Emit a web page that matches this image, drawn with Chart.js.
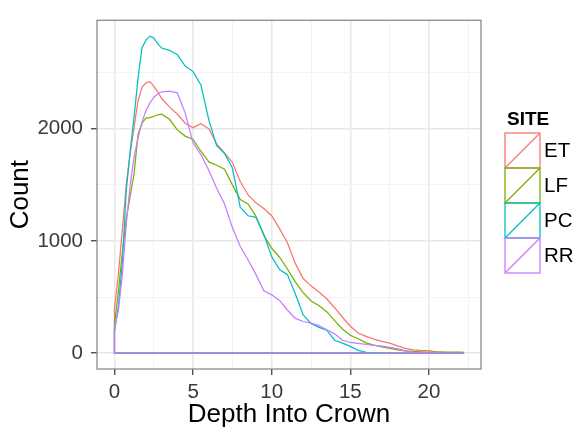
<!DOCTYPE html>
<html>
<head>
<meta charset="utf-8">
<script src="https://cdn.jsdelivr.net/npm/chart.js@4.4.1/dist/chart.umd.min.js"></script>
<style>
  html, body { margin: 0; padding: 0; background: #fff; }
  #depth-chart { display: block; }
</style>
</head>
<body>
<canvas id="depth-chart" width="576" height="433"></canvas>
<script>
// depth grid shared by every site
const depth = [0, 0.25, 0.5, 0.75, 1, 1.25, 1.5, 1.75, 2, 2.25, 2.5, 2.75, 3, 3.5, 4, 4.5, 5, 5.5,
    6, 6.5, 7, 7.5, 8, 8.5, 9, 9.5, 10, 10.5, 11, 11.5, 12, 12.5, 13, 13.5, 14, 14.5, 15, 15.5,
    16, 16.5, 17, 17.5, 18, 18.5, 19, 19.5, 20, 20.5, 21, 21.5, 22, 22.2];

const sites = ["ET", "LF", "PC", "RR"];
const siteColors = ["#F8766D", "#7CAE00", "#00BFC4", "#C77CFF"];

// counts per site along the depth grid
const countET = [400, 700, 1100, 1500, 1780, 2020, 2250, 2370, 2410, 2420, 2380, 2330, 2270, 2195,
    2130, 2050, 2010, 2045, 2000, 1865, 1785, 1700, 1530, 1410, 1340, 1290, 1225, 1110, 985, 800,
    665, 600, 545, 485, 405, 320, 240, 180, 150, 125, 105, 90, 65, 42, 30, 25, 22, 12, 6, 3, 1, 0];
const countLF = [260, 550, 900, 1200, 1400, 1600, 1950, 2050, 2095, 2100, 2110, 2125, 2130, 2085,
    1990, 1935, 1905, 1800, 1705, 1675, 1640, 1500, 1370, 1330, 1220, 1050, 935, 855, 750, 635,
    540, 465, 425, 370, 290, 215, 160, 128, 92, 72, 55, 42, 29, 21, 15, 12, 10, 10, 9, 9, 9, 8];
const countPC = [190, 420, 800, 1450, 1800, 2110, 2450, 2720, 2790, 2826, 2810, 2760, 2720, 2700,
    2660, 2560, 2510, 2390, 2080, 1850, 1780, 1650, 1300, 1225, 1210, 1060, 860, 745, 700, 530,
    340, 265, 230, 205, 115, 90, 60, 25, 8, 4, 2, 1, 0, 0, 0, 0, 0, 0, 0, 0, 0, 0];
const countRR = [230, 380, 700, 1150, 1500, 1750, 1920, 2060, 2160, 2230, 2280, 2310, 2330, 2335,
    2320, 2140, 1875, 1770, 1630, 1470, 1330, 1120, 950, 830, 700, 555, 520, 470, 385, 310,
    282, 268, 245, 208, 172, 115, 95, 87, 78, 70, 62, 52, 40, 20, 8, 5, 3, 2, 1, 0, 0, 0];

const siteCounts = [countET, countLF, countPC, countRR];

const xMajor = [0, 5, 10, 15, 20];
const yMajor = [0, 1000, 2000];

// density outline closed along the baseline, like a polygon
function outline(values) {
    const first = depth[0];
    const last = depth[depth.length - 1];
    const pts = [{ x: first, y: 0 }];
    depth.forEach((d, i) => pts.push({ x: d, y: values[i] }));
    pts.push({ x: last, y: 0 });
    pts.push({ x: first, y: 0 });
    return pts;
}

const xLo = Math.min(...depth), xHi = Math.max(...depth);
const yHi = Math.max(...siteCounts.flat());
const xPad = (xHi - xLo) * 0.05;

const datasets = sites.map((s, i) => ({
    label: s,
    data: outline(siteCounts[i]),
    borderColor: siteColors[i],
    borderWidth: 1.25,
    pointRadius: 0,
    fill: false,
    tension: 0,
    order: sites.length - i   // later sites drawn on top
}));

const fontFamily = "'Liberation Sans', Arial, sans-serif";

// one legend key: outlined box crossed by a diagonal
function drawKey(ctx, x, y, size, color) {
    ctx.save();
    ctx.strokeStyle = color;
    ctx.lineWidth = 1.3;
    ctx.beginPath();
    ctx.moveTo(x + 0.5, y + size - 0.5);
    ctx.lineTo(x + size - 0.5, y + 0.5);
    ctx.stroke();
    ctx.strokeRect(x, y, size, size);
    ctx.restore();
}

// white background, panel frame and the SITE key
const panelDecor = {
    id: 'panelDecor',
    beforeDraw(chart) {
        const ctx = chart.ctx;
        ctx.save();
        ctx.fillStyle = '#fff';
        ctx.fillRect(0, 0, chart.width, chart.height);
        ctx.restore();
    },
    afterDraw(chart) {
        const { ctx, chartArea: a } = chart;
        ctx.save();
        ctx.strokeStyle = '#8a8a8a';
        ctx.lineWidth = 1.3;
        ctx.strokeRect(a.left, a.top, a.right - a.left, a.bottom - a.top);

        // legend
        const kx = 505, ky = 133, ks = 35;
        ctx.fillStyle = '#000';
        ctx.font = `bold 19px ${fontFamily}`;
        ctx.textBaseline = 'alphabetic';
        ctx.fillText('SITE', 507, 125);

        sites.forEach((s, i) => drawKey(ctx, kx, ky + i * ks, ks, siteColors[i]));

        ctx.font = `20.5px ${fontFamily}`;
        ctx.fillStyle = '#000';
        ctx.textBaseline = 'middle';
        sites.forEach((s, i) => {
            ctx.fillText(s, 544, ky + i * ks + ks / 2 + 1);
        });
        ctx.restore();
    }
};

const gridLine = (majors) => (c) => majors.includes(c.tick.value) ? '#e8e8e8' : '#f3f3f3';
const gridWidth = (majors) => (c) => majors.includes(c.tick.value) ? 1.5 : 1;
const tickMark = (majors) => (c) => majors.includes(c.tick.value) ? '#333' : 'rgba(0,0,0,0)';

new Chart(document.getElementById('depth-chart'), {
    type: 'line',
    data: { datasets: datasets },
    plugins: [panelDecor],
    options: {
        responsive: false,
        animation: false,
        layout: { padding: { top: 13, right: 95, bottom: 0, left: 0 } },
        plugins: { legend: { display: false }, tooltip: { enabled: false } },
        scales: {
            x: {
                type: 'linear',
                min: xLo - xPad,
                max: xHi + xPad,
                afterFit: (scale) => { scale.height = 64; },
                afterBuildTicks: (scale) => {
                    const t = [];
                    for (let v = 0; v <= xHi + xPad; v += 2.5) t.push({ value: v });
                    scale.ticks = t;
                },
                border: { display: false },
                grid: {
                    color: gridLine(xMajor),
                    lineWidth: gridWidth(xMajor),
                    tickColor: tickMark(xMajor),
                    tickLength: 6,
                    tickWidth: 1.2
                },
                ticks: {
                    padding: 5,
                    color: '#3a3a3a',
                    font: { family: fontFamily, size: 20.5 },
                    maxRotation: 0,
                    autoSkip: false,
                    callback: (v) => xMajor.includes(v) ? String(v) : ''
                },
                title: {
                    display: true,
                    text: 'Depth Into Crown',
                    color: '#000',
                    font: { family: fontFamily, size: 26 },
                    padding: { top: 0, bottom: 3 }
                }
            },
            y: {
                type: 'linear',
                min: -0.05 * yHi,
                max: 1.05 * yHi,
                afterFit: (scale) => { scale.width = 97; },
                afterBuildTicks: (scale) => {
                    const t = [];
                    for (let v = 0; v <= 1.05 * yHi; v += 500) t.push({ value: v });
                    scale.ticks = t;
                },
                border: { display: false },
                grid: {
                    color: gridLine(yMajor),
                    lineWidth: gridWidth(yMajor),
                    tickColor: tickMark(yMajor),
                    tickLength: 6,
                    tickWidth: 1.2
                },
                ticks: {
                    padding: 8,
                    color: '#3a3a3a',
                    font: { family: fontFamily, size: 20.5 },
                    autoSkip: false,
                    callback: (v) => yMajor.includes(v) ? String(v) : ''
                },
                title: {
                    display: true,
                    text: 'Count',
                    color: '#000',
                    font: { family: fontFamily, size: 26 },
                    padding: { top: 5, bottom: 0 }
                }
            }
        }
    }
});
</script>
</body>
</html>
